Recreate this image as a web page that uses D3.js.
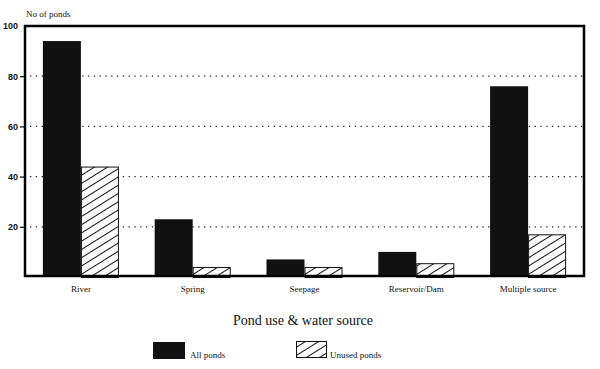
<!DOCTYPE html>
<html><head><meta charset="utf-8">
<script src="https://cdn.jsdelivr.net/npm/d3@7"></script>
<style>
body{margin:0;background:#fff}
.serif{font-family:"Liberation Serif","Times New Roman","DejaVu Serif",serif}
.sans{font-family:"Liberation Sans",Arial,sans-serif}
</style>
</head><body>
<svg id="c" width="600" height="369"></svg>
<script>
const categories = ["River","Spring","Seepage","Reservoir/Dam","Multiple source"];
const series = ["All ponds","Unused ponds"];
const allPonds = [94, 23, 7, 10, 76];
const unusedPonds = [44, 4, 4, 5.5, 17];
const yTicks = [20, 40, 60, 80, 100];

const svg = d3.select("#c");
const L = 25, R = 584, T = 26, B = 277;
const x = d3.scaleBand().domain(categories).range([L, R]).padding(0);
const bw = x.bandwidth();
const x1 = d3.scaleBand().domain(series).range([bw*0.16, bw*0.84]).padding(0);
const y = d3.scaleLinear().domain([0, 100]).range([B, T]);

const defs = svg.append("defs");
const pat = defs.append("pattern").attr("id","hatch").attr("patternUnits","userSpaceOnUse")
  .attr("width", 8).attr("height", 7).attr("patternTransform","rotate(-32)");
pat.append("rect").attr("width",8).attr("height",7).attr("fill","#fff");
pat.append("line").attr("x1",0).attr("x2",8).attr("y1",3.5).attr("y2",3.5).attr("stroke","#111").attr("stroke-width",1);

// gridlines
svg.append("g").selectAll("line").data(yTicks.filter(d=>d<100)).join("line")
  .attr("x1", L+5).attr("x2", R).attr("y1", d=>y(d)).attr("y2", d=>y(d))
  .attr("stroke","#222").attr("stroke-width",1.3).attr("stroke-dasharray","1.3,4.5");

// bars
const g = svg.append("g").selectAll("g").data(categories).join("g")
  .attr("transform", d=>`translate(${x(d)},0)`);
g.append("rect").attr("x", x1("All ponds")).attr("width", x1.bandwidth())
  .attr("y", (d,i)=>y(allPonds[i])).attr("height",(d,i)=>B-y(allPonds[i]))
  .attr("fill","#111");
g.append("rect").attr("x", x1("Unused ponds")+0.5).attr("width", x1.bandwidth()-1)
  .attr("y", (d,i)=>y(unusedPonds[i])+0.5).attr("height",(d,i)=>B-y(unusedPonds[i]))
  .attr("fill","url(#hatch)").attr("stroke","#111").attr("stroke-width",1);

// frame
svg.append("rect").attr("x",L).attr("y",T).attr("width",R-L).attr("height",B-T-1)
  .attr("fill","none").attr("stroke","#000").attr("stroke-width",2.5);

// y axis
const yAxis = d3.axisLeft(y).tickValues(yTicks).tickSize(4).tickPadding(2).tickFormat(d3.format("d"));
const ya = svg.append("g").attr("transform",`translate(${L-1},0)`).call(yAxis);
ya.select(".domain").remove();
ya.attr("font-family", null).attr("font-size", null).attr("class","sans");
ya.selectAll(".tick line").attr("stroke","#000").attr("stroke-width",1.2);
ya.selectAll(".tick").filter(d=>d===100).select("line").remove();
ya.selectAll(".tick text").attr("font-size",9).attr("font-weight","bold").attr("fill","#111");

// x axis labels
const xAxis = d3.axisBottom(x).tickSize(0).tickPadding(9);
const xa = svg.append("g").attr("transform",`translate(0,${B})`).call(xAxis);
xa.select(".domain").remove();
xa.attr("font-family", null).attr("font-size", null).attr("class","serif");
xa.selectAll(".tick text").attr("font-size",9).attr("fill","#111");

svg.append("text").attr("class","serif").attr("x",26).attr("y",17).text("No of ponds")
  .attr("font-size",9).attr("fill","#111");

svg.append("text").attr("class","serif").attr("x",303).attr("y",325).attr("text-anchor","middle").text("Pond use & water source")
  .attr("font-size",14).attr("fill","#111");

// legend
const leg = svg.append("g").attr("class","serif");
leg.append("rect").attr("x",153).attr("y",342).attr("width",32).attr("height",17).attr("fill","#111");
leg.append("text").attr("x",190).attr("y",358).text(series[0])
  .attr("font-size",9).attr("fill","#111");
leg.append("rect").attr("x",296.5).attr("y",341.5).attr("width",30).attr("height",16)
  .attr("fill","url(#hatch)").attr("stroke","#111").attr("stroke-width",1);
leg.append("text").attr("x",330).attr("y",358).text(series[1])
  .attr("font-size",9).attr("fill","#111");
</script>
</body></html>
